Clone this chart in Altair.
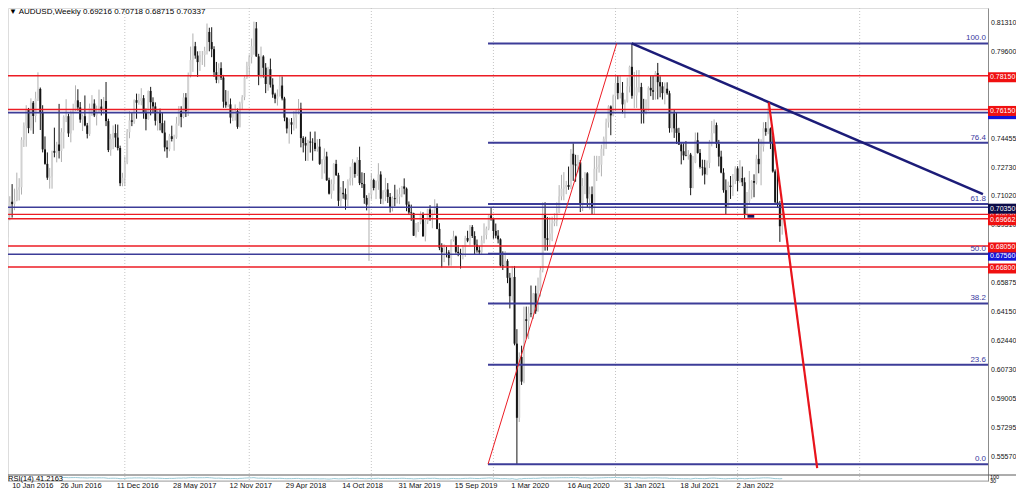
import altair as alt
import numpy as np
import pandas as pd

# ---------------- data: AUDUSD weekly candles (pips), week 0 = 10 Jan 2016 ----------------
first_open = 6993
highs = [7048,7016,7100,7172,7145,7240,7207,7450,7538,7640,
         7624,7681,7665,7720,7835,7745,7640,7455,7360,7268,
         7370,7507,7423,7648,7504,7580,7676,7590,7608,7649,
         7758,7735,7659,7586,7698,7535,7650,7700,7675,7638,
         7733,7676,7689,7778,7560,7470,7520,7527,7525,7400,
         7239,7336,7499,7604,7597,7675,7709,7708,7741,7700,
         7620,7727,7749,7687,7657,7610,7620,7598,7549,7431,
         7470,7519,7465,7571,7635,7634,7712,7712,7834,7988,
         8066,8016,7960,7962,7962,7987,8125,8100,8103,7990,
         7897,7889,7895,7820,7730,7726,7680,7620,7645,7620,
         7661,7700,7812,7898,7941,8036,8136,8134,7945,7988,
         7937,7890,7868,7917,7800,7714,7734,7813,7811,7690,
         7568,7560,7564,7605,7615,7677,7655,7456,7453,7435,
         7483,7444,7484,7439,7440,7320,7384,7364,7210,7200,
         7296,7316,7239,7154,7190,7146,7200,7275,7320,7304,
         7332,7394,7242,7238,7106,7120,7235,7204,7193,7296,
         7248,7136,7209,7178,7119,7099,7168,7140,7150,7161,
         7206,7152,7069,7050,7002,6941,6947,7010,7005,6960,
         7025,7047,7020,7082,7057,6940,6821,6815,6800,6780,
         6845,6895,6866,6810,6788,6810,6865,6895,6929,6929,
         6892,6843,6805,6865,6939,6920,6990,7032,6973,6938,
         6899,6850,6773,6774,6726,6645,6686,6686,6311,6173,
         6213,6445,6445,6445,6570,6526,6569,6617,6684,7064,
         7064,6977,6976,6979,6998,7064,7166,7227,7243,7191,
         7276,7380,7414,7346,7345,7315,7208,7243,7243,7157,
         7158,7340,7340,7339,7406,7454,7561,7640,7639,7703,
         7820,7819,7818,7778,7674,7804,7875,8007,7838,7848,
         7849,7773,7678,7675,7752,7817,7818,7843,7891,7812,
         7777,7775,7776,7726,7617,7616,7599,7506,7420,7414,
         7427,7374,7357,7339,7478,7478,7380,7317,7316,7312,
         7434,7547,7556,7537,7434,7370,7266,7200,7187,7220,
         7232,7278,7278,7314,7276,7211,7125,7250,7195,7230,
         7346,7441,7438,7539,7540,7661,7508,7458,7259,7266,
         7072,7072]
lows = [6827,6830,6957,6973,7017,7070,7075,7110,7392,7394,
        7474,7490,7470,7539,7665,7493,7360,7287,7197,7145,
        7145,7331,7301,7324,7303,7383,7540,7452,7420,7491,
        7605,7608,7536,7487,7515,7443,7458,7577,7570,7520,
        7595,7579,7586,7516,7362,7340,7379,7391,7372,7160,
        7159,7160,7290,7444,7516,7530,7560,7643,7640,7560,
        7491,7554,7580,7600,7520,7490,7491,7474,7366,7328,
        7367,7425,7370,7441,7518,7509,7563,7570,7576,7805,
        7838,7916,7808,7844,7879,7868,7941,7960,7925,7808,
        7771,7770,7790,7625,7625,7628,7532,7546,7549,7500,
        7508,7614,7670,7796,7822,7888,7940,7927,7759,7800,
        7804,7712,7726,7745,7684,7652,7638,7693,7669,7545,
        7473,7412,7468,7490,7502,7586,7390,7360,7310,7310,
        7359,7311,7367,7364,7286,7203,7235,7191,7110,7085,
        7133,7220,7041,7040,7085,7020,7042,7164,7164,7210,
        7220,7166,7149,7055,7016,6716,7080,7135,7083,7138,
        7054,7052,7071,7060,7003,7010,7040,7057,7053,7094,
        7111,7011,6989,6954,6864,6855,6888,6934,6860,6832,
        6935,6954,6910,6993,6904,6780,6677,6709,6737,6688,
        6688,6831,6760,6744,6671,6725,6740,6827,6811,6852,
        6755,6765,6755,6754,6820,6844,6898,6955,6848,6850,
        6820,6682,6662,6683,6584,6434,6481,6215,5510,5760,
        5980,5990,6254,6252,6382,6372,6402,6415,6505,6648,
        6777,6777,6804,6833,6922,6922,7000,7076,7076,7112,
        7138,7143,7191,7186,7241,7006,7012,7112,7036,7021,
        6991,6991,7190,7240,7218,7340,7380,7507,7462,7574,
        7610,7675,7680,7592,7564,7656,7716,7679,7622,7624,
        7716,7531,7532,7586,7607,7694,7672,7673,7675,7687,
        7674,7645,7702,7477,7479,7446,7410,7404,7289,7314,
        7337,7317,7106,7147,7296,7353,7264,7223,7170,7225,
        7267,7396,7473,7386,7277,7236,7121,6993,7030,7084,
        7101,7172,7130,7180,7160,6967,6985,7054,7085,7094,
        7170,7236,7165,7365,7459,7468,7380,7240,7054,7030,
        6829,6872]
closes = [6857,6992,7067,7053,7075,7138,7153,7435,7519,7618,
          7504,7655,7576,7680,7737,7599,7378,7292,7210,7217,
          7369,7358,7407,7369,7480,7570,7575,7473,7597,7617,
          7669,7627,7555,7575,7520,7470,7624,7650,7580,7601,
          7632,7610,7665,7546,7374,7440,7475,7448,7386,7177,
          7210,7300,7480,7550,7542,7670,7655,7665,7682,7600,
          7558,7725,7658,7633,7548,7596,7534,7478,7390,7379,
          7456,7440,7449,7531,7606,7570,7686,7605,7819,7908,
          7990,7935,7896,7938,7938,7963,8075,8015,7973,7836,
          7791,7860,7804,7661,7640,7645,7567,7605,7606,7512,
          7651,7688,7803,7872,7925,7990,8096,7930,7814,7930,
          7863,7766,7854,7762,7704,7679,7693,7757,7680,7566,
          7502,7539,7525,7567,7608,7620,7445,7416,7401,7425,
          7418,7417,7381,7394,7292,7316,7336,7195,7115,7172,
          7292,7225,7073,7120,7112,7080,7189,7208,7297,7232,
          7315,7178,7172,7090,7050,7110,7196,7149,7188,7229,
          7085,7126,7140,7096,7033,7088,7083,7098,7112,7158,
          7145,7050,7004,7000,6866,6898,6945,6994,6862,6950,
          7022,6976,7017,7039,6906,6794,6768,6768,6767,6733,
          6840,6861,6770,6763,6753,6798,6852,6836,6918,6864,
          6812,6779,6767,6838,6870,6908,6986,6967,6894,6866,
          6844,6689,6685,6716,6616,6507,6621,6225,5785,6146,
          6000,6370,6360,6404,6400,6523,6417,6540,6661,6995,
          6851,6841,6879,6939,6952,7003,7099,7145,7154,7167,
          7155,7352,7288,7283,7301,7047,7161,7236,7087,7112,
          7029,7263,7273,7287,7382,7441,7538,7633,7580,7694,
          7772,7712,7714,7645,7663,7752,7868,7696,7698,7746,
          7748,7614,7601,7614,7743,7729,7720,7831,7777,7752,
          7712,7738,7711,7504,7592,7503,7476,7407,7367,7342,
          7339,7347,7149,7301,7432,7357,7274,7270,7230,7298,
          7418,7475,7522,7410,7335,7240,7136,7033,7163,7155,
          7200,7265,7190,7208,7183,6994,7070,7140,7190,7180,
          7322,7290,7395,7503,7482,7502,7418,7247,7064,7060,
          6922,7034]

# time axis labels (week index, text)
date_label_weeks = [0, 24, 48, 72, 96, 120, 144, 168, 192, 216, 240, 264, 288, 312]
date_labels = ["10 Jan 2016", "26 Jun 2016", "11 Dec 2016", "28 May 2017", "12 Nov 2017",
               "29 Apr 2018", "14 Oct 2018", "31 Mar 2019", "15 Sep 2019", "1 Mar 2020",
               "16 Aug 2020", "31 Jan 2021", "18 Jul 2021", "2 Jan 2022"]
year_sep_weeks = [51, 104, 156, 208, 260, 312, 364]

# visible price scale labels (those fully covered by price tags are omitted)
price_ticks = [0.81310, 0.79600, 0.74455, 0.72730, 0.71020, 0.69310,
               0.65875, 0.64150, 0.62440, 0.60730, 0.59005, 0.57295, 0.55570]

red_levels = [0.78150, 0.76150, 0.69920, 0.69662, 0.68050, 0.66800]
blue_levels = [0.75960, 0.70350, 0.67560]

fib_low = 0.5510
fib_high = 0.8007
fib_ratios = [0.0, 23.6, 38.2, 50.0, 61.8, 76.4, 100.0]
fib_start_week = 205.7

fib_diag_weeks = [205.7, 260.5]
fib_diag_prices = [0.5510, 0.8007]
trend_weeks = [266.9, 416.5]
trend_prices = [0.8007, 0.7113]
red_trend_weeks = [325.3, 345.9]
red_trend_prices = [0.7657, 0.5486]
mark_box_weeks = [316.2, 319.1]
mark_box_prices = [0.69886, 0.69726]

tag_prices = [0.75960, 0.76150, 0.78150, 0.69920, 0.70350, 0.69662, 0.67560, 0.68050, 0.66800]
tag_texts = ["0.75960", "0.76150", "0.78150", "0.69920", "0.70350", "0.69662", "0.67560", "0.68050", "0.66800"]
tag_kinds = ["blue", "red", "red", "red", "navy", "red", "blue", "red", "red"]

title_text = "\u25bc AUDUSD,Weekly  0.69216 0.70718 0.68715 0.70337"
rsi_text = "RSI(14) 41.2163"
rsi_scale_texts = ["100", "30"]

# ---------------- styling ----------------
FONT = "Liberation Sans"
RED = "#ec1c24"
BLUE = "#3c3c98"
NAVY = "#1c1c78"
TAG_COL = {"red": "#f01010", "blue": "#1414d8", "navy": "#0c0c48"}
AX_FS = 7

PLOT_W, PLOT_H = 980, 473
xscale = alt.Scale(domain=[3.373, 416.53], nice=False, zero=False)
yscale = alt.Scale(domain=[0.54099, 0.82171], nice=False, zero=False)
yaxis = alt.Axis(orient="right", values=price_ticks, format=".5f", grid=False, ticks=False,
                 labelPadding=2.5, labelFont=FONT, labelFontSize=AX_FS, labelColor="#111111",
                 domainColor="#8c8c8c", domainWidth=1, labelOverlap=False, labelFlush=False,
                 title=None)


def X(f):
    return alt.X(f, type="quantitative", scale=xscale, axis=None)


def Y(f):
    return alt.Y(f, type="quantitative", scale=yscale, axis=yaxis)


# ---------------- tables ----------------
c = np.array(closes) / 10000.0
h = np.array(highs) / 10000.0
l = np.array(lows) / 10000.0
o = np.concatenate([[first_open], closes[:-1]]) / 10000.0
weeks = np.arange(len(c))
candles = pd.DataFrame({"w": weeks, "o": o, "h": h, "l": l, "c": c})
candles["top"] = np.maximum(candles.o, candles.c)
candles["bot"] = np.minimum(candles.o, candles.c)

cs = pd.Series(c)
d = cs.diff()
gain = d.clip(lower=0).ewm(alpha=1 / 14, adjust=False).mean()
loss = (-d.clip(upper=0)).ewm(alpha=1 / 14, adjust=False).mean()
rsi = 100 - 100 / (1 + gain / loss)
rsi_df = pd.DataFrame({"w": weeks, "rsi": rsi})
rsi_df = rsi_df[rsi_df.w >= 24]

one = pd.DataFrame({"a": [0]})
seps = pd.DataFrame({"w": year_sep_weeks})
dl = pd.DataFrame({"w": [max(w, 3.45) for w in date_label_weeks], "label": date_labels})
reds = pd.DataFrame({"p": red_levels})
blues = pd.DataFrame({"p": blue_levels})
fib = pd.DataFrame({"r": fib_ratios})
fib["p"] = fib_low + fib["r"] / 100.0 * (fib_high - fib_low)
fib["label"] = [f"{r:.1f}" for r in fib_ratios]
fib["w0"] = fib_start_week
diag = pd.DataFrame({"w": fib_diag_weeks, "p": fib_diag_prices})
trend = pd.DataFrame({"w": trend_weeks, "p": trend_prices})
rtrend = pd.DataFrame({"w": red_trend_weeks, "p": red_trend_prices})
mbox = pd.DataFrame({"w0": [mark_box_weeks[0]], "w1": [mark_box_weeks[1]],
                     "p0": [mark_box_prices[0]], "p1": [mark_box_prices[1]]})

# ---------------- layers ----------------
sep_layer = alt.Chart(seps).mark_rule(color="#c4c4c4", strokeDash=[1, 2], strokeWidth=1).encode(x=X("w"))

up = "datum.c >= datum.o"
wick_layer = alt.Chart(candles).mark_rule(strokeWidth=1).encode(
    x=X("w"), y=Y("l"), y2="h",
    color=alt.condition(up, alt.value("#b0b0b0"), alt.value("#151515")))
body_layer = alt.Chart(candles).mark_bar(size=2).encode(
    x=X("w"), y=Y("bot"), y2="top",
    color=alt.condition(up, alt.value("#d2d2d2"), alt.value("#151515")))

red_layer = alt.Chart(reds).mark_rule(color=RED, strokeWidth=1.4).encode(y=Y("p"))
blue_layer = alt.Chart(blues).mark_rule(color=BLUE, strokeWidth=1.6).encode(y=Y("p"))
fib_layer = alt.Chart(fib).mark_rule(color=BLUE, strokeWidth=2).encode(
    x=X("w0"), x2=alt.value(PLOT_W), y=Y("p"))
fib_text = alt.Chart(fib).mark_text(align="right", baseline="bottom", dy=-1, font=FONT,
                                    fontSize=8, color="#3a3aa0").encode(
    x=alt.value(PLOT_W - 2), y=Y("p"), text="label")
diag_layer = alt.Chart(diag).mark_line(color=RED, strokeWidth=1).encode(x=X("w"), y=Y("p"))
trend_layer = alt.Chart(trend).mark_line(color=NAVY, strokeWidth=2.5).encode(x=X("w"), y=Y("p"))
rtrend_layer = alt.Chart(rtrend).mark_line(color="#e8141c", strokeWidth=2.2).encode(x=X("w"), y=Y("p"))
mbox_layer = alt.Chart(mbox).mark_rect(color="#14145a").encode(x=X("w0"), x2="w1", y=Y("p0"), y2="p1")

tag_layers = []
box_shape = "M0,-0.5H2.8V0.5H0Z"
for i, (p, t, k) in enumerate(zip(tag_prices, tag_texts, tag_kinds)):
    td = pd.DataFrame({"p": [p], "t": [t]})
    tag_layers.append(alt.Chart(td).mark_point(shape=box_shape, size=400, filled=True, opacity=1,
                                               color=TAG_COL[k], strokeWidth=0, yOffset=1.5).encode(
        x=alt.value(PLOT_W), y=Y("p")))
    tag_layers.append(alt.Chart(td).mark_text(align="left", baseline="middle", font=FONT, fontSize=AX_FS,
                                              color="white", yOffset=1.5).encode(
        x=alt.value(PLOT_W + 2), y=Y("p"), text="t"))

title_layer = alt.Chart(one).mark_text(align="left", baseline="middle", font=FONT, fontSize=8,
                                       color="#000000").encode(
    x=alt.value(1), y=alt.value(4), text=alt.value(title_text))

price_layers = alt.layer(sep_layer, wick_layer, body_layer, red_layer, blue_layer, fib_layer,
                         fib_text, diag_layer, trend_layer, rtrend_layer, mbox_layer,
                         *tag_layers, title_layer)

rsi_layer = alt.Chart(rsi_df).mark_line(color="#9ccad6", strokeWidth=1).encode(
    x=X("w"), y=alt.Y("rsi", type="quantitative",
                      scale=alt.Scale(domain=[-28.57, 13485.7], nice=False, zero=False), axis=None))

panel_top = alt.Chart(one).mark_rule(color="#5a5a5a", strokeWidth=1).encode(
    x=alt.value(0), x2=alt.value(PLOT_W + 28), y=alt.value(467))
panel_bot = alt.Chart(one).mark_rule(color="#a8a8a8", strokeWidth=1).encode(
    x=alt.value(0), x2=alt.value(PLOT_W), y=alt.value(473))
rsi_label = alt.Chart(one).mark_text(align="left", baseline="middle", font=FONT, fontSize=7.5,
                                     color="#000000").encode(
    x=alt.value(0), y=alt.value(470.5), text=alt.value(rsi_text))
rsi_scale_lbl = alt.Chart(pd.DataFrame({"t": rsi_scale_texts, "yy": [469, 473]})).mark_text(
    align="left", baseline="middle", font=FONT, fontSize=5.5, color="#000000").encode(
    x=alt.value(PLOT_W + 2), y=alt.Y("yy:Q", scale=None), text="t")
date_layer = alt.Chart(dl).mark_text(align="left", baseline="middle", font=FONT, fontSize=7.5,
                                     color="#111111", dx=-1).encode(
    x=X("w"), y=alt.value(477.5), text="label")

chart = alt.layer(price_layers, rsi_layer, panel_top, panel_bot, rsi_label, rsi_scale_lbl,
                  date_layer).resolve_scale(y="independent").properties(
    width=PLOT_W, height=PLOT_H,
    padding={"left": 0, "top": 0, "right": 28, "bottom": 8},
    autosize=alt.AutoSizeParams(type="none"),
    background="white",
).configure_view(stroke=None).configure(font=FONT)

chart.save("out.html", embed_options={"renderer": "svg", "actions": False})
